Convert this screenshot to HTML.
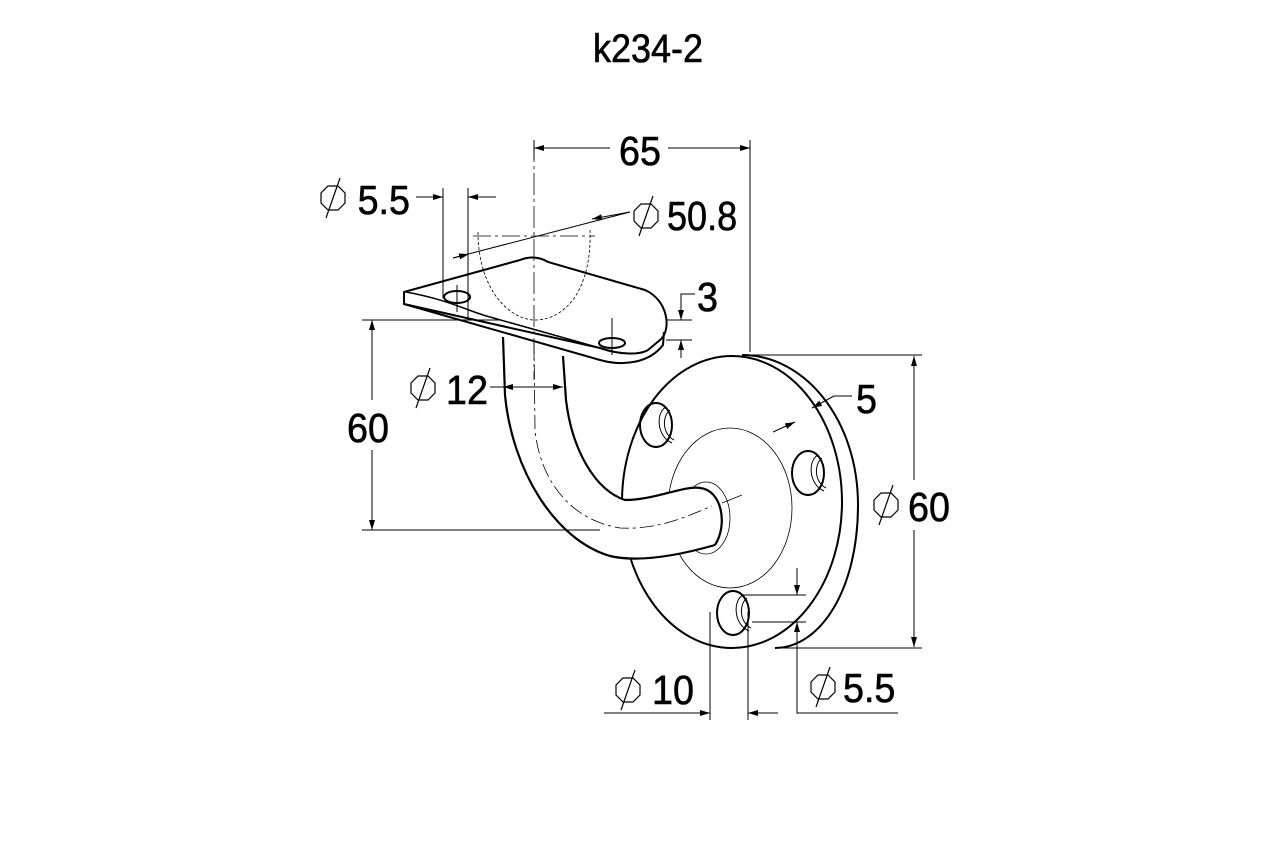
<!DOCTYPE html>
<html><head><meta charset="utf-8"><style>
html,body{margin:0;padding:0;background:#fff}
svg{display:block}
text{font-family:"Liberation Sans",sans-serif;fill:#000;stroke:#000;stroke-width:0.6}
</style></head><body>
<svg width="1280" height="850" viewBox="0 0 1280 850" xmlns="http://www.w3.org/2000/svg">
<defs>
<marker id="a" viewBox="0 0 10 6" refX="10" refY="3" markerWidth="10" markerHeight="6" orient="auto-start-reverse" markerUnits="userSpaceOnUse"><path d="M0,0L10,3L0,6z" fill="#000"/></marker>
</defs>
<g font-size="40">
<text x="648" y="62" text-anchor="middle" transform="translate(648 0) scale(0.9 1) translate(-648 0)">k234-2</text>
</g>
<g fill="none" stroke="#000">
<!-- plate back rim -->
<path d="M742,355 C805,355 858,420 858,505 C858,590 820,648 775,648" stroke-width="2"/>
<!-- plate front -->
<ellipse cx="732" cy="502" rx="110" ry="146" stroke-width="2" fill="#fff"/>
<ellipse cx="730" cy="508" rx="62" ry="80" stroke-width="0.8"/>
<!-- holes -->
<g stroke-width="2">
<ellipse cx="656" cy="425" rx="16" ry="22"/>
<ellipse cx="808" cy="473" rx="16" ry="22"/>
<ellipse cx="733" cy="613" rx="16" ry="22"/>
</g>
<g stroke-width="1">
<path d="M666,407 C656,412 656,436 672,443"/><path d="M670,410 C662,416 662,434 674,440"/>
<path d="M818,455 C808,460 808,484 824,491"/><path d="M822,458 C814,464 814,482 826,488"/>
<path d="M743,595 C733,600 733,624 749,631"/><path d="M747,598 C739,604 739,622 751,628"/>
</g>
<ellipse cx="706" cy="518" rx="24" ry="36" stroke-width="0.8"/>
<!-- tube -->
<path d="M503,337 L505,395 C512,470 555,540 610,556 C640,563 680,555 715,545 C728,525 722,490 700,488 C685,485 655,500 625,500 C595,490 572,450 566,400 L563,356 Z" fill="#fff" stroke="none"/>
<path d="M503,337 L505,395 C512,470 555,540 610,556 C640,563 680,555 715,545" stroke-width="2.2"/>
<path d="M563,356 L566,400 C572,450 595,490 625,500 C655,500 685,485 700,488" stroke-width="2.2"/>
<path d="M700,488 C722,490 728,525 715,545" stroke-width="2.2"/>
<path d="M534,340 L535,430 C540,480 570,520 620,528 C660,530 690,515 712,506" stroke-width="0.8" stroke-dasharray="14 4 3 4"/>
<line x1="722" y1="503" x2="742" y2="495" stroke-width="0.8"/>
<!-- saddle -->
<path d="M404,292 L520,260 C530,256 540,257 548,262 L645,290 C668,300 672,330 660,340 L648,350 C640,355 620,355 600,348 L404,304 Z" fill="#fff" stroke-width="2"/>
<path d="M404,304 L600,360 C625,367 650,362 663,345 L664,332" stroke-width="2"/>
<path d="M404,292 L404,304" stroke-width="2"/>
<path d="M406,292 C450,300 470,312 490,317 L600,348" stroke-width="1.5"/>
<ellipse cx="457" cy="297" rx="13" ry="6" stroke-width="2"/>
<ellipse cx="612" cy="343" rx="13" ry="5" stroke-width="2"/>
<!-- 50.8 arc dashed -->
<path d="M478,232 C478,290 510,320 535,320 C565,320 592,290 590,230" stroke-width="0.8" stroke-dasharray="3 2"/>
<path d="M473,236 L595,236" stroke-width="0.8" stroke-dasharray="18 4 3 4"/>
<!-- center line vertical -->
<path d="M534,140 L534,380" stroke-width="0.8" stroke-dasharray="22 4 3 4"/>
<g stroke-width="1">
<line x1="443" y1="188" x2="443" y2="298"/><line x1="468" y1="188" x2="468" y2="318"/>
<line x1="416" y1="197" x2="443" y2="197" marker-end="url(#a)"/>
<line x1="496" y1="197" x2="468" y2="197" marker-end="url(#a)"/>
<line x1="457" y1="285" x2="457" y2="312"/><line x1="612" y1="318" x2="612" y2="355"/>
<line x1="453" y1="258" x2="630" y2="212"/><line x1="453" y1="258" x2="469" y2="254" marker-end="url(#a)"/>
<line x1="630" y1="212" x2="592" y2="219" marker-end="url(#a)"/>
<line x1="534" y1="140" x2="534" y2="160"/><line x1="750" y1="140" x2="750" y2="352"/>
<line x1="610" y1="148" x2="534" y2="148" marker-end="url(#a)"/>
<line x1="668" y1="148" x2="750" y2="148" marker-end="url(#a)"/>
<line x1="666" y1="320" x2="692" y2="320"/><line x1="666" y1="340" x2="692" y2="340"/>
<polyline points="695,294 681,294 681,320" marker-end="url(#a)"/>
<line x1="681" y1="358" x2="681" y2="340" marker-end="url(#a)"/>
<line x1="362" y1="320" x2="500" y2="320"/><line x1="362" y1="530" x2="600" y2="530"/>
<line x1="372" y1="400" x2="372" y2="320" marker-end="url(#a)"/>
<line x1="372" y1="450" x2="372" y2="530" marker-end="url(#a)"/>
<line x1="490" y1="387" x2="503" y2="387"/>
<line x1="534" y1="387" x2="503" y2="387" marker-end="url(#a)"/>
<line x1="534" y1="387" x2="563" y2="387" marker-end="url(#a)"/>
<line x1="852" y1="396" x2="834" y2="396"/>
<line x1="834" y1="396" x2="812" y2="408" marker-end="url(#a)"/>
<line x1="773" y1="432" x2="795" y2="422" marker-end="url(#a)"/>
<line x1="742" y1="355" x2="922" y2="355"/><line x1="775" y1="648" x2="922" y2="648"/>
<line x1="914" y1="480" x2="914" y2="356" marker-end="url(#a)"/>
<line x1="914" y1="530" x2="914" y2="647" marker-end="url(#a)"/>
<line x1="710" y1="612" x2="710" y2="720"/><line x1="748" y1="612" x2="748" y2="720"/>
<line x1="604" y1="713" x2="710" y2="713" marker-end="url(#a)"/>
<line x1="778" y1="713" x2="748" y2="713" marker-end="url(#a)"/>
<line x1="743" y1="595" x2="806" y2="595"/><line x1="752" y1="622" x2="806" y2="622"/>
<line x1="797" y1="568" x2="797" y2="595" marker-end="url(#a)"/>
<polyline points="898,713 797,713 797,622" marker-end="url(#a)"/>
</g>
</g>
<g font-size="41">
<text x="640" y="165" text-anchor="middle" transform="translate(640 0) scale(0.92 1) translate(-640 0)">65</text>
<text x="410" y="214" text-anchor="end" transform="translate(410 0) scale(0.92 1) translate(-410 0)">5.5</text>
<text x="667" y="230" transform="translate(667 0) scale(0.88 1) translate(-667 0)">50.8</text>
<text x="697" y="311" transform="translate(697 0) scale(0.92 1) translate(-697 0)">3</text>
<text x="446" y="404" transform="translate(446 0) scale(0.92 1) translate(-446 0)">12</text>
<text x="347" y="442" transform="translate(347 0) scale(0.92 1) translate(-347 0)">60</text>
<text x="856" y="413" transform="translate(856 0) scale(0.92 1) translate(-856 0)">5</text>
<text x="908" y="521" transform="translate(908 0) scale(0.92 1) translate(-908 0)">60</text>
<text x="652" y="704" transform="translate(652 0) scale(0.92 1) translate(-652 0)">10</text>
<text x="843" y="702" transform="translate(843 0) scale(0.92 1) translate(-843 0)">5.5</text>
</g>
<g fill="none" stroke="#000" stroke-width="1.2">
<g transform="translate(333 198)"><path d="M-5,-12 L5,-12 L12,-5 L12,5 L5,12 L-5,12 L-12,5 L-12,-5 Z"/><line x1="7" y1="-20" x2="-7" y2="20"/></g>
<g transform="translate(646 216)"><path d="M-5,-12 L5,-12 L12,-5 L12,5 L5,12 L-5,12 L-12,5 L-12,-5 Z"/><line x1="7" y1="-20" x2="-7" y2="20"/></g>
<g transform="translate(423 388)"><path d="M-5,-12 L5,-12 L12,-5 L12,5 L5,12 L-5,12 L-12,5 L-12,-5 Z"/><line x1="7" y1="-20" x2="-7" y2="20"/></g>
<g transform="translate(886 505)"><path d="M-5,-12 L5,-12 L12,-5 L12,5 L5,12 L-5,12 L-12,5 L-12,-5 Z"/><line x1="7" y1="-20" x2="-7" y2="20"/></g>
<g transform="translate(628 690)"><path d="M-5,-12 L5,-12 L12,-5 L12,5 L5,12 L-5,12 L-12,5 L-12,-5 Z"/><line x1="7" y1="-20" x2="-7" y2="20"/></g>
<g transform="translate(823 687)"><path d="M-5,-12 L5,-12 L12,-5 L12,5 L5,12 L-5,12 L-12,5 L-12,-5 Z"/><line x1="7" y1="-20" x2="-7" y2="20"/></g>
</g>
</svg>
</body></html>
